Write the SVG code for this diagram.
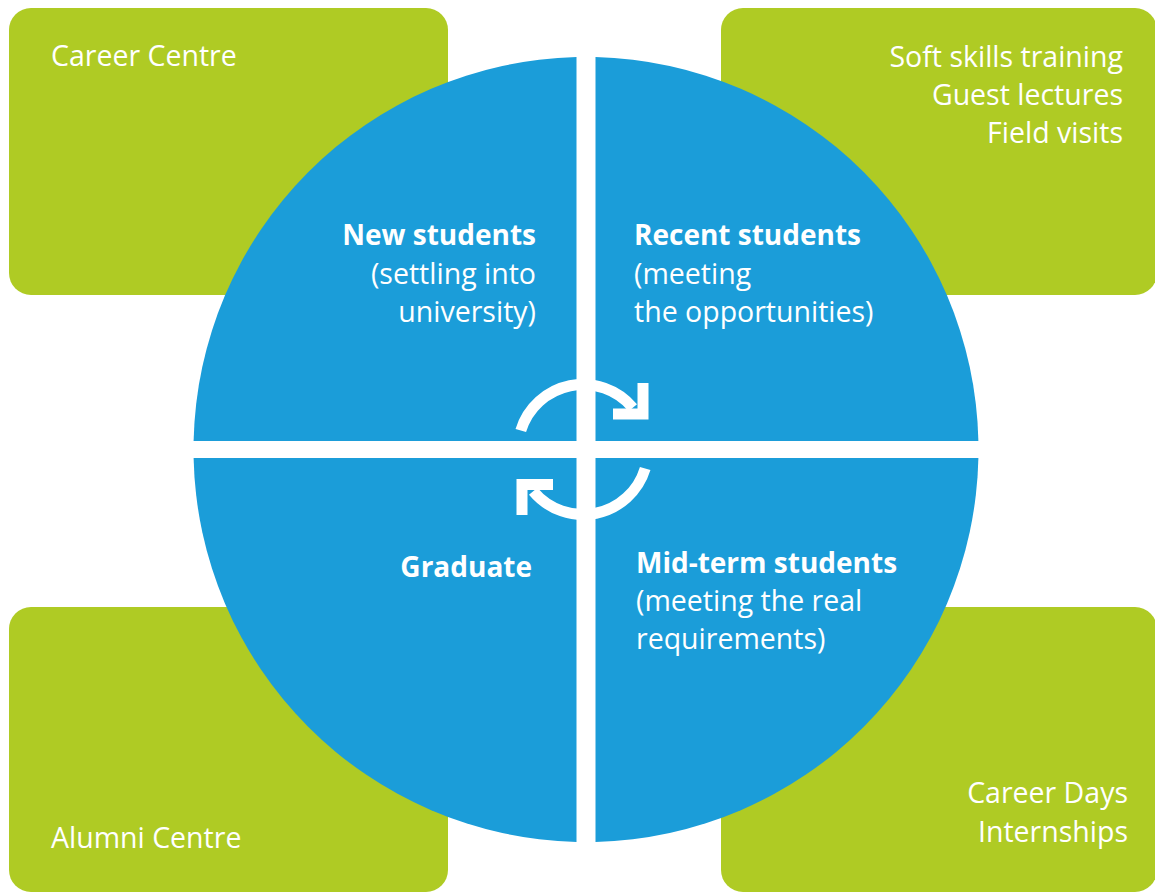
<svg xmlns="http://www.w3.org/2000/svg" width="1155" height="893" viewBox="0 0 1155 893">
  <style>
    .box { fill: #AFCB24; }
    .quad { fill: #1B9DD9; }
    text { font-family: "Open Sans", "Noto Sans", sans-serif; font-size: 28.5px; fill: #FFFFFF; }
    .b { font-weight: bold; font-size: 28px; }
    .end { text-anchor: end; }
    .cyc { fill: none; stroke: #FFFFFF; stroke-width: 11; stroke-linecap: butt; stroke-linejoin: miter; }
  </style>
  <rect width="1155" height="893" fill="#FFFFFF"/>

  <!-- support services, one per corner -->
  <g id="career-centre">
    <rect class="box" x="9" y="8" width="439" height="287" rx="22"/>
    <text x="51" y="66">Career Centre</text>
  </g>
  <g id="training">
    <rect class="box" x="721" y="8" width="436" height="287" rx="22"/>
    <text class="end" x="1123" y="67">Soft skills training</text>
    <text class="end" x="1123" y="105">Guest lectures</text>
    <text class="end" x="1123" y="143">Field visits</text>
  </g>
  <g id="alumni-centre">
    <rect class="box" x="9" y="607" width="439" height="285" rx="22"/>
    <text x="51" y="848">Alumni Centre</text>
  </g>
  <g id="career-days">
    <rect class="box" x="721" y="607" width="436" height="285" rx="22"/>
    <text class="end" x="1128" y="803">Career Days</text>
    <text class="end" x="1128" y="842">Internships</text>
  </g>

  <!-- student life-cycle quadrants -->
  <g id="new-students">
    <path class="quad" d="M576.5,441 V57.1 A392.5,392.5 0 0 0 193.6,441 Z"/>
    <text class="b end" x="536" y="245">New students</text>
    <text class="end" x="536" y="284">(settling into</text>
    <text class="end" x="536" y="322">university)</text>
  </g>
  <g id="recent-students">
    <path class="quad" d="M595.5,441 V57.1 A392.5,392.5 0 0 1 978.4,441 Z"/>
    <text class="b" x="634" y="245">Recent students</text>
    <text x="634" y="284">(meeting</text>
    <text x="634" y="322">the opportunities)</text>
  </g>
  <g id="graduate">
    <path class="quad" d="M576.5,458 V841.9 A392.5,392.5 0 0 1 193.6,458 Z"/>
    <text class="b end" x="532" y="577">Graduate</text>
  </g>
  <g id="mid-term-students">
    <path class="quad" d="M595.5,458 V841.9 A392.5,392.5 0 0 0 978.4,458 Z"/>
    <text class="b" x="636" y="573">Mid-term students</text>
    <text x="636" y="611">(meeting the real</text>
    <text x="636" y="649">requirements)</text>
  </g>

  <!-- cycle arrows -->
  <g id="connectors">
    <path class="cyc" d="M520.8,430.5 A65,65 0 0 1 632.8,407.7"/>
    <path class="cyc" stroke-width="10" d="M613,414 H643 V383"/>
    <path class="cyc" d="M645.2,468.5 A65,65 0 0 1 533.2,491.3"/>
    <path class="cyc" stroke-width="10.5" d="M553,484.5 H522 V515"/>
  </g>
</svg>
